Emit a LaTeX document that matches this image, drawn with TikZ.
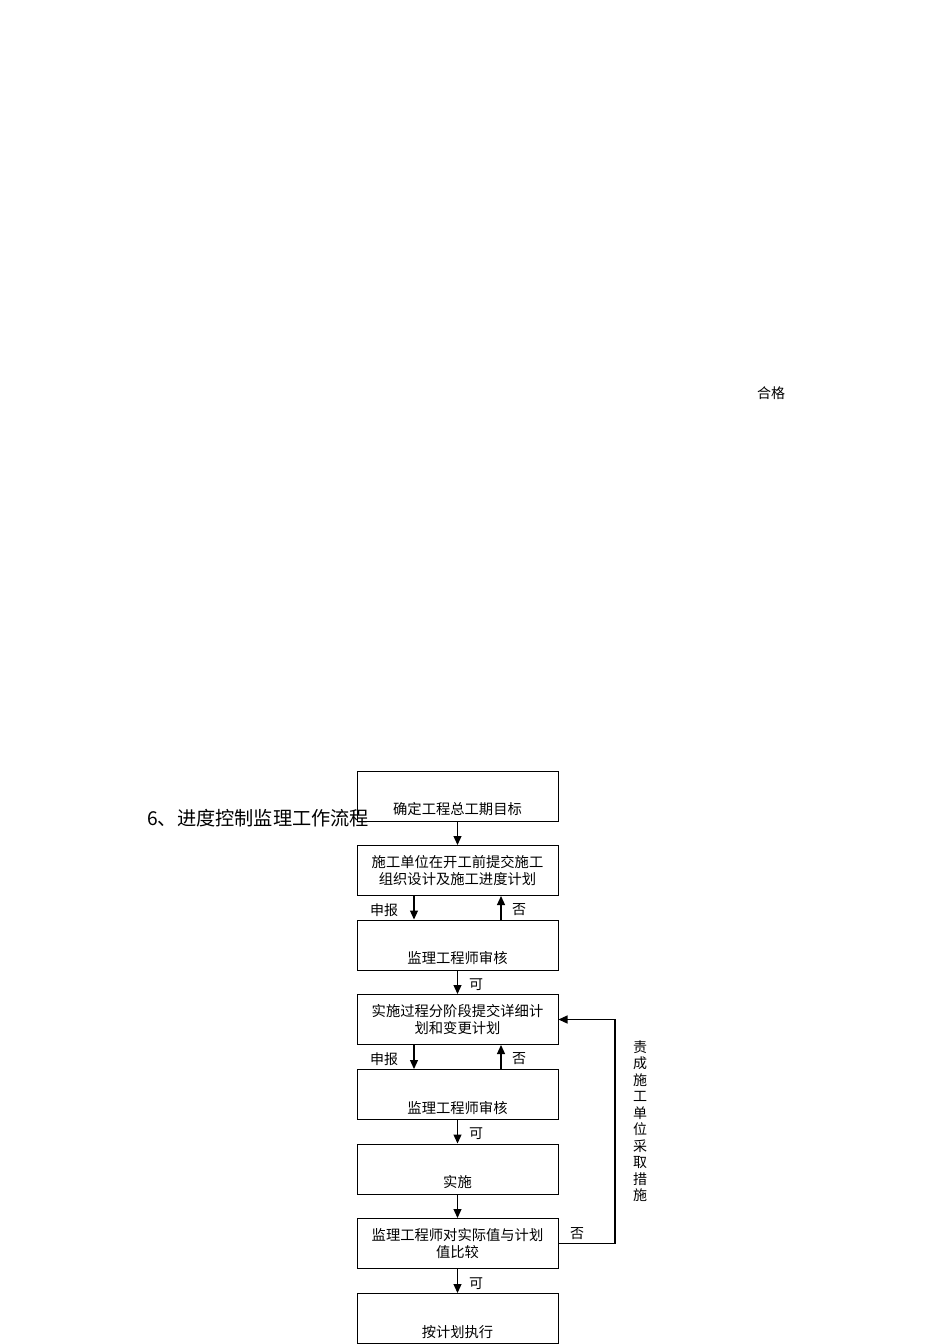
\documentclass[tikz,border=0pt]{standalone}
\usepackage{fontspec}
\newfontfamily\cjk{Noto Sans CJK SC}
\usetikzlibrary{arrows.meta}

\tikzset{
  stepbox/.style={draw, line width=1pt, minimum width=201pt, minimum height=50pt,
    inner sep=0pt, align=center, font=\cjk\fontsize{14.3}{17}\selectfont},
  tag/.style={font=\cjk\fontsize{14}{17}\selectfont, inner sep=0pt},
  flow/.style={line width=1.2pt, -{Triangle[length=9pt,width=8pt]}},
}

\begin{document}
\begin{tikzpicture}[x=1pt,y=-1pt]
	\useasboundingbox[fill=white] (0,0) rectangle (950,1344);
	% title and stray label
	\node[font=\cjk\fontsize{19.2}{22}\selectfont, anchor=west, inner sep=0pt] (title) at (147,818) {6、进度控制监理工作流程};
	\node[tag] (hege) at (771,393) {合格};
	% boxes
	\node[stepbox] (goal) at (457.5,796) {\mbox{}\\[22pt]确定工程总工期目标};
	\node[stepbox] (plan) at (457.5,870.5) {施工单位在开工前提交施工\\组织设计及施工进度计划};
	\node[stepbox] (check1) at (457.5,945) {\mbox{}\\[22pt]监理工程师审核};
	\node[stepbox] (detail) at (457.5,1019.5) {实施过程分阶段提交详细计\\划和变更计划};
	\node[stepbox] (check2) at (457.5,1094.5) {\mbox{}\\[22pt]监理工程师审核};
	\node[stepbox] (impl) at (457.5,1169) {\mbox{}\\[22pt]实施};
	\node[stepbox] (compare) at (457.5,1243.5) {监理工程师对实际值与计划\\值比较};
	\node[stepbox] (exec) at (457.5,1318.5) {\mbox{}\\[22pt]按计划执行};
	% connectors
	\draw[flow] (goal) -- (plan);
	\draw[flow] ([xshift=-43.5pt]plan.south) -- ([xshift=-43.5pt]check1.north);
	\draw[flow] ([xshift=43.5pt]check1.north) -- ([xshift=43.5pt]plan.south);
	\draw[flow] (check1) -- (detail);
	\draw[flow] ([xshift=-43.5pt]detail.south) -- ([xshift=-43.5pt]check2.north);
	\draw[flow] ([xshift=43.5pt]check2.north) -- ([xshift=43.5pt]detail.south);
	\draw[flow] (check2) -- (impl);
	\draw[flow] (impl) -- (compare);
	\draw[flow] (compare) -- (exec);
	\coordinate (loop) at (615,1243.5);
	\draw[flow] (compare.east) -- (loop) |- (detail.east);
	% labels
	\node[tag] (sb1) at (384,910) {申报};
	\node[tag] (no1) at (519,910) {否};
	\node[tag] (ok1) at (476,985) {可};
	\node[tag] (sb2) at (384,1059) {申报};
	\node[tag] (no2) at (519,1059) {否};
	\node[tag] (ok2) at (476,1134) {可};
	\node[tag] (no3) at (577,1234) {否};
	\node[tag] (ok3) at (476,1284) {可};
	\node[tag, align=center, font=\cjk\fontsize{14}{16.5}\selectfont] (order) at (640,1121)
	{责\\成\\施\\工\\单\\位\\采\\取\\措\\施};
\end{tikzpicture}
\end{document}
